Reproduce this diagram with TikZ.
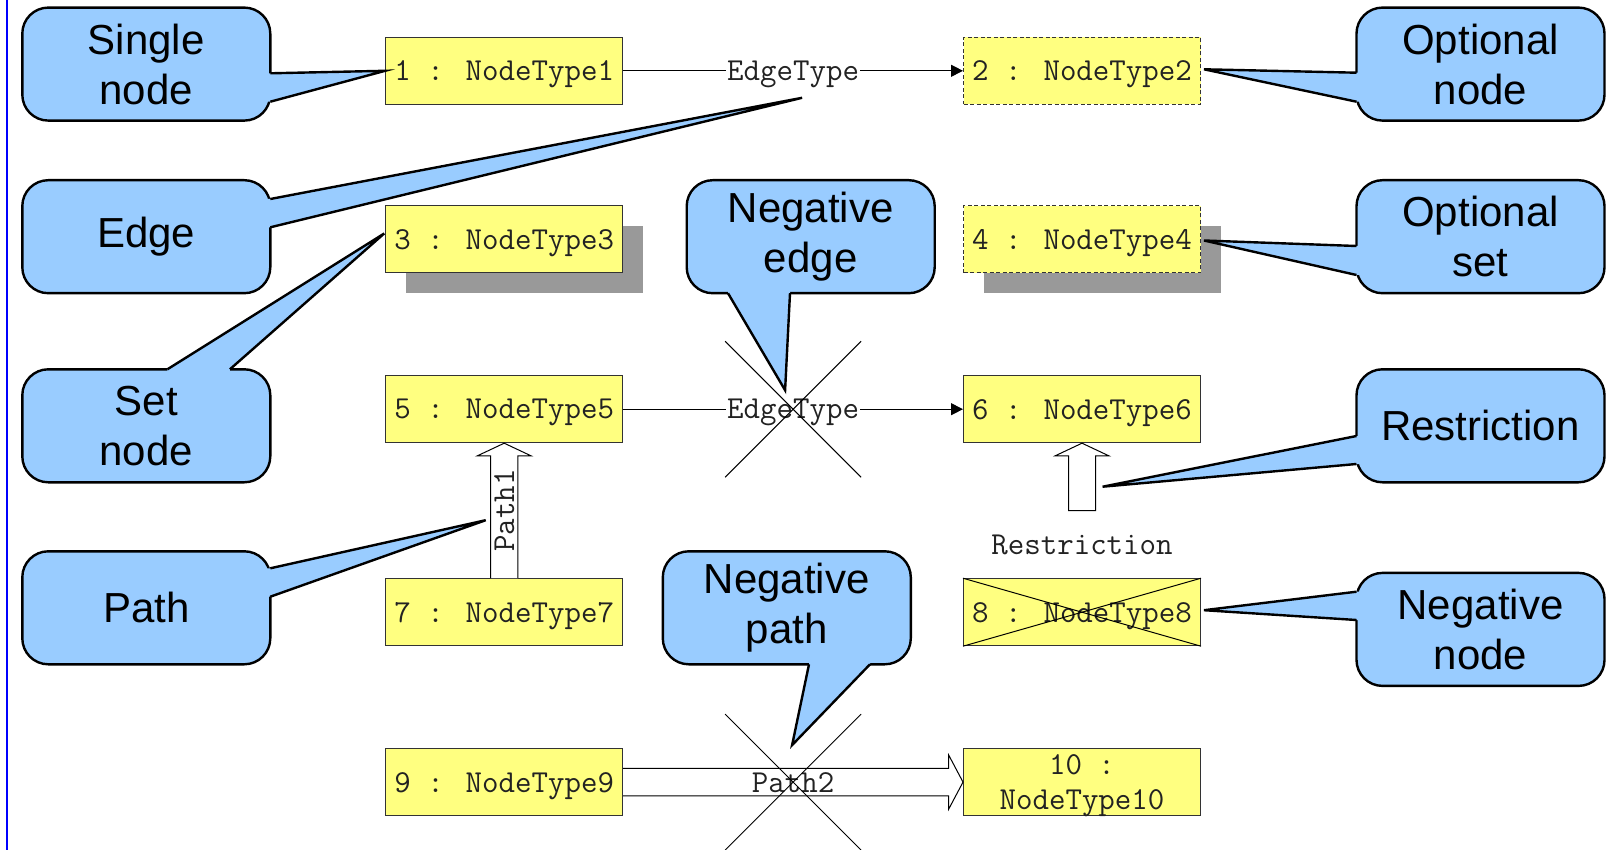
\documentclass[tikz,border=0pt]{standalone}
\usepackage{fontspec}
\usetikzlibrary{calc,arrows.meta,shadows}
\newfontfamily\callfont{Liberation Sans}
\newcommand{\monofnt}{\ttfamily}
\definecolor{cblue}{HTML}{99CCFF}
\definecolor{nyellow}{HTML}{FFFF80}
\definecolor{shgray}{HTML}{999999}
\definecolor{nborder}{HTML}{333333}
\definecolor{mtext}{HTML}{222222}
\newcommand{\calltail}[4]{%
  \fill[cblue] ($(#1)+#4$) -- (#1) -- (#2) -- (#3) -- ($(#3)+#4$) -- cycle;
  \draw[tailline] (#1) -- (#2) -- (#3);
}
\begin{document}
\begin{tikzpicture}[x=1pt,y=-1pt,
  callout/.style={draw=black, line width=2.4pt, fill=cblue, rounded corners=26pt,
    minimum width=248pt, minimum height=113pt, align=center, inner sep=0pt,
    font=\callfont\fontsize{42}{50}\selectfont},
  gnode/.style={draw=nborder, line width=1pt, fill=nyellow, minimum width=237pt,
    minimum height=67pt, inner sep=0pt, align=center, text=mtext, text depth=0pt,
    font=\monofnt\fontsize{32}{35}\selectfont},
  optnode/.style={gnode, dash pattern=on 4pt off 2.5pt},
  setshadow/.style={general shadow={fill=shgray, shadow xshift=20pt, shadow yshift=-20pt}},
  mono/.style={font=\monofnt\fontsize{32}{35}\selectfont, inner sep=1pt, text=mtext},
  elabel/.style={mono, fill=white, text depth=0pt},
  edgeline/.style={draw=black, line width=1pt, -{Triangle[length=12pt,width=12pt]}},
  blockarrow/.style={draw=black, line width=1pt, fill=white, line join=miter},
  cross/.style={draw=black, line width=1pt},
  tailline/.style={draw=black, line width=2.4pt, line join=miter},
]
\useasboundingbox (0,0) rectangle (1620,850);
\fill[white] (0,0) rectangle (1620,850);
\draw[blue, line width=2pt] (6.7,0) -- (6.7,850);

% graph nodes
\node[gnode] (n1) at (504.2,70.8) {1 : NodeType1};
\node[optnode] (n2) at (1082,70.8) {2 : NodeType2};
\node[gnode,setshadow] (n3) at (504.2,239.5) {3 : NodeType3};
\node[optnode,setshadow] (n4) at (1082,239.5) {4 : NodeType4};
\node[gnode] (n5) at (504.2,409.2) {5 : NodeType5};
\node[gnode] (n6) at (1082,409.2) {6 : NodeType6};
\node[gnode] (n7) at (504.2,612.2) {7 : NodeType7};
\node[gnode] (n8) at (1082,612.2) {8 : NodeType8};
\node[gnode] (n9) at (504.2,782.1) {9 : NodeType9};
\node[gnode] (n10) at (1082,782.1) {10 :\\NodeType10};

% edges
\draw[edgeline] (n1) -- node[elabel] (el1) {EdgeType} (n2);
\draw[edgeline] (n5) -- node[elabel] (el2) {EdgeType} (n6);
\draw[cross] ($(el2.center)+(-68,-68)$) -- ($(el2.center)+(68,68)$);
\draw[cross] ($(el2.center)+(68,-68)$) -- ($(el2.center)+(-68,68)$);

% negative node cross
\draw[cross] (n8.north west) -- (n8.south east);
\draw[cross] (n8.south west) -- (n8.north east);

% path 1
\draw[blockarrow] ($(n7.north)+(-13.6,0)$) -- ($(n5.south)+(-13.6,12.7)$) -- ($(n5.south)+(-27,12.7)$)
  -- (n5.south) -- ($(n5.south)+(27,12.7)$) -- ($(n5.south)+(13.6,12.7)$) -- ($(n7.north)+(13.6,0)$);
\node[mono, rotate=90] (p1) at ($(n7.north)!0.5!(n5.south)$) {Path1};

% restriction
\node[mono] (rl) at (1082,545) {Restriction};
\coordinate (rb) at (1082,510.7);
\draw[blockarrow] ($(rb)+(-13.5,0)$) -- ($(n6.south)+(-13.5,12.7)$) -- ($(n6.south)+(-27,12.7)$)
  -- (n6.south) -- ($(n6.south)+(27,12.7)$) -- ($(n6.south)+(13.5,12.7)$) -- ($(rb)+(13.5,0)$) -- cycle;

% path 2 (negative)
\draw[blockarrow] ($(n9.east)+(0,-13.8)$) -- ($(n10.west)+(-14.3,-13.8)$) -- ($(n10.west)+(-14.3,-27)$)
  -- (n10.west) -- ($(n10.west)+(-14.3,27)$) -- ($(n10.west)+(-14.3,13.8)$) -- ($(n9.east)+(0,13.8)$);
\node[mono, text depth=0pt] (p2) at ($(n9.east)!0.5!(n10.west)$) {Path2};
\draw[cross] ($(p2.center)+(-68,-68)$) -- ($(p2.center)+(68,68)$);
\draw[cross] ($(p2.center)+(68,-68)$) -- ($(p2.center)+(-68,68)$);

% callouts
\node[callout] (sn) at (146.3,64.1) {Single\\node};
\node[callout] (ed) at (146.3,236.7) {Edge};
\node[callout] (st) at (146.3,425.8) {Set\\node};
\node[callout] (pa) at (146.3,607.8) {Path};
\node[callout] (on) at (1480.5,64.1) {Optional\\node};
\node[callout] (os) at (1480.5,236.7) {Optional\\set};
\node[callout] (re) at (1480.5,425.8) {Restriction};
\node[callout] (nn) at (1480.5,629.4) {Negative\\node};
\node[callout] (ne) at (810.7,236.7) {Negative\\edge};
\node[callout] (np) at (786.8,607.8) {Negative\\path};

% tails
\coordinate (a1) at ($(sn.east)+(-1.2,9.2)$);
\coordinate (b1) at ($(sn.east)+(-1.2,37.6)$);
\coordinate (t1) at (n1.west);
\calltail{a1}{t1}{b1}{(-5,0)}

\coordinate (a2) at ($(ed.east)+(-1.2,-37.7)$);
\coordinate (b2) at ($(ed.east)+(-1.2,-9.4)$);
\coordinate (t2) at ($(el1.center)+(9,27)$);
\calltail{a2}{t2}{b2}{(-5,0)}

\coordinate (a3) at ($(st.north)+(21.1,1.2)$);
\coordinate (b3) at ($(st.north)+(83.6,1.2)$);
\coordinate (t3) at ($(n3.west)+(-1,-6)$);
\calltail{a3}{t3}{b3}{(0,5)}

\coordinate (a4) at ($(pa.east)+(-1.2,-39.5)$);
\coordinate (b4) at ($(pa.east)+(-1.2,-11.1)$);
\coordinate (t4) at ($(p1.center)+(-18.5,9.5)$);
\calltail{a4}{t4}{b4}{(-5,0)}

\coordinate (a5) at ($(on.west)+(1.2,8.6)$);
\coordinate (b5) at ($(on.west)+(1.2,37.6)$);
\coordinate (t5) at ($(n2.east)+(3,-1.5)$);
\calltail{a5}{t5}{b5}{(5,0)}

\coordinate (a6) at ($(os.west)+(1.2,9.3)$);
\coordinate (b6) at ($(os.west)+(1.2,38.3)$);
\coordinate (t6) at ($(n4.east)+(3,1)$);
\calltail{a6}{t6}{b6}{(5,0)}

\coordinate (a7) at ($(re.west)+(1.2,10.2)$);
\coordinate (b7) at ($(re.west)+(1.2,38.2)$);
\coordinate (t7) at ($(rb)+(20.6,-24)$);
\calltail{a7}{t7}{b7}{(5,0)}

\coordinate (a8) at ($(nn.west)+(1.2,-37.7)$);
\coordinate (b8) at ($(nn.west)+(1.2,-9.4)$);
\coordinate (t8) at ($(n8.east)+(3,-2)$);
\calltail{a8}{t8}{b8}{(5,0)}

\coordinate (a9) at ($(ne.south)+(-82.7,-1.2)$);
\coordinate (b9) at ($(ne.south)+(-20.7,-1.2)$);
\coordinate (t9) at ($(el2.center)+(-8,-19)$);
\calltail{a9}{t9}{b9}{(0,-5)}

\coordinate (a10) at ($(np.south)+(22.2,-1.2)$);
\coordinate (b10) at ($(np.south)+(83.2,-1.2)$);
\coordinate (t10) at ($(p2.center)+(-1,-37)$);
\calltail{a10}{t10}{b10}{(0,-5)}
\end{tikzpicture}
\end{document}
